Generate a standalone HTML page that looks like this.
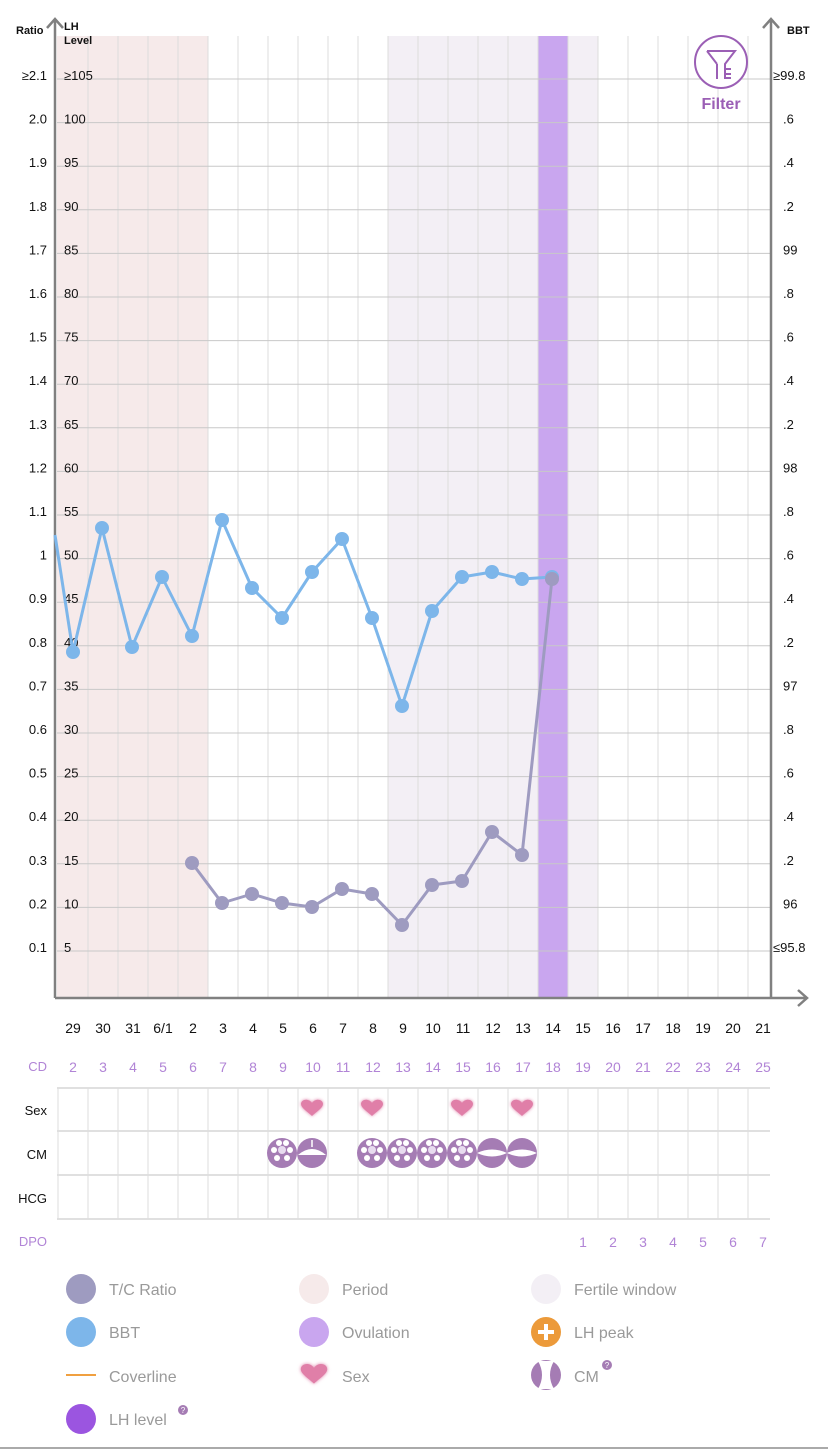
<!DOCTYPE html>
<html><head><meta charset="utf-8"><style>
html,body{margin:0;padding:0;background:#fff;width:828px;height:1450px;overflow:hidden}
svg{display:block;font-family:"Liberation Sans",sans-serif}
</style></head><body>
<svg id="s" width="828" height="1450" viewBox="0 0 828 1450" xmlns="http://www.w3.org/2000/svg">
<defs>
<filter id="glow" x="-50%" y="-50%" width="200%" height="200%"><feGaussianBlur stdDeviation="1.5" result="b"/><feMerge><feMergeNode in="b"/><feMergeNode in="SourceGraphic"/></feMerge></filter>
</defs>
<g id="g"></g>
</svg>
<script>
var out=[];
function A(s){out.push(s)}
// backgrounds
A('<rect x="57" y="36" width="151" height="962" fill="#f6eaea"/>');
A('<rect x="388" y="36" width="210" height="962" fill="#f3eff5"/>');
A('<rect x="538" y="36" width="30" height="962" fill="#c9a6ef"/>');
// vertical grid
for(var i=1;i<24;i++){var x=58+30*i;A('<line x1="'+x+'" y1="36" x2="'+x+'" y2="998" stroke="#dcdcdc" stroke-width="1"/>')}
// horizontal grid
var ratio=['≥2.1','2.0','1.9','1.8','1.7','1.6','1.5','1.4','1.3','1.2','1.1','1','0.9','0.8','0.7','0.6','0.5','0.4','0.3','0.2','0.1'];
var bbt=['≥99.8','.6','.4','.2','99','.8','.6','.4','.2','98','.8','.6','.4','.2','97','.8','.6','.4','.2','96','≤95.8'];
for(var k=0;k<21;k++){var y=79+43.6*k;
A('<line x1="57" y1="'+y+'" x2="770" y2="'+y+'" stroke="#c8c8c8" stroke-width="1"/>');
A('<text x="47" y="'+(y+1)+'" font-size="13" text-anchor="end" fill="#111">'+ratio[k]+'</text>');
A('<text x="64" y="'+(y+1)+'" font-size="13" fill="#111">'+(k==0?'≥105':(105-5*k))+'</text>');
A('<text x="'+(k==0||k==20?773:783)+'" y="'+(y+1)+'" font-size="13" fill="#111">'+bbt[k]+'</text>');
}
A('<text x="16" y="34" font-size="11" font-weight="bold" fill="#111">Ratio</text>');
A('<text x="64" y="30" font-size="11" font-weight="bold" fill="#111">LH</text>');
A('<text x="64" y="44" font-size="11" font-weight="bold" fill="#111">Level</text>');
A('<text x="787" y="34" font-size="11" font-weight="bold" fill="#111">BBT</text>');
// axes
A('<path d="M55,998 V20 M47,28 L55,19 L63,28" stroke="#808080" stroke-width="2.5" fill="none"/>');
A('<path d="M771,998 V20 M763,28 L771,19 L779,28" stroke="#808080" stroke-width="2.5" fill="none"/>');
A('<path d="M55,998 H806 M798,990 L807,998 L798,1006" stroke="#808080" stroke-width="2.5" fill="none"/>');
// filter
A('<circle cx="721" cy="62" r="26" fill="#fff" stroke="#9b5fb5" stroke-width="2"/>');
A('<path d="M707,51 H735 L725,64 V79 M717,64 V79 M707,51 L717,64" stroke="#9b5fb5" stroke-width="2" fill="none"/>');
A('<path d="M725,69 H731 M725,74 H731 M725,78 H731" stroke="#9b5fb5" stroke-width="2"/>');
A('<text x="721" y="109" font-size="16" font-weight="bold" text-anchor="middle" fill="#9b5fb5">Filter</text>');
// BBT
var b=[[55,535],[73,652],[102,528],[132,647],[162,577],[192,636],[222,520],[252,588],[282,618],[312,572],[342,539],[372,618],[402,706],[432,611],[462,577],[492,572],[522,579],[552,577]];
A('<polyline points="'+b.map(function(p){return p.join(',')}).join(' ')+'" fill="none" stroke="#7db6ea" stroke-width="3" stroke-linejoin="round"/>');
b.slice(1).forEach(function(p){A('<circle cx="'+p[0]+'" cy="'+p[1]+'" r="7" fill="#7db6ea"/>')});
var r=[[192,863],[222,903],[252,894],[282,903],[312,907],[342,889],[372,894],[402,925],[432,885],[462,881],[492,832],[522,855],[552,579]];
A('<polyline points="'+r.map(function(p){return p.join(',')}).join(' ')+'" fill="none" stroke="#9e9bc0" stroke-width="3" stroke-linejoin="round"/>');
r.forEach(function(p){A('<circle cx="'+p[0]+'" cy="'+p[1]+'" r="7" fill="#9e9bc0"/>')});
// dates
var d=['29','30','31','6/1','2','3','4','5','6','7','8','9','10','11','12','13','14','15','16','17','18','19','20','21'];
for(var i=0;i<24;i++){var x=73+30*i;
A('<text x="'+x+'" y="1033" font-size="14" text-anchor="middle" fill="#111">'+d[i]+'</text>');
A('<text x="'+x+'" y="1072" font-size="14" text-anchor="middle" fill="#b184d6">'+(i+2)+'</text>');
if(i>=17)A('<text x="'+x+'" y="1247" font-size="14" text-anchor="middle" fill="#b184d6">'+(i-16)+'</text>');
}
A('<text x="47" y="1071" font-size="13" text-anchor="end" fill="#b184d6">CD</text>');
A('<text x="47" y="1246" font-size="13" text-anchor="end" fill="#b184d6">DPO</text>');
// lower grid
[1088,1131,1175,1219].forEach(function(y){A('<line x1="57" y1="'+y+'" x2="770" y2="'+y+'" stroke="#c0c0c0"/>')});
for(var i=0;i<24;i++){var x=58+30*i;A('<line x1="'+x+'" y1="1088" x2="'+x+'" y2="1219" stroke="#dedede"/>')}
A('<text x="47" y="1115" font-size="13" text-anchor="end" fill="#111">Sex</text>');
A('<text x="47" y="1159" font-size="13" text-anchor="end" fill="#111">CM</text>');
A('<text x="47" y="1203" font-size="13" text-anchor="end" fill="#111">HCG</text>');
function heart(cx,cy,s){return '<path filter="url(#glow)" transform="translate('+cx+','+cy+') scale('+s+')" d="M0,8 C-4,4 -11,0 -11,-4 C-11,-9 -3,-10 0,-5 C3,-10 11,-9 11,-4 C11,0 4,4 0,8Z" fill="#e07fa8"/>'}
[312,372,462,522].forEach(function(x){A(heart(x,1108,1))});
function cm(cx,cy,t){var s='<circle cx="'+cx+'" cy="'+cy+'" r="15" fill="#a57cb4"/>';
if(t==0){s+='<circle cx="'+cx+'" cy="'+(cy-3)+'" r="4" fill="#e8dcef"/>';[[-8,-3],[8,-3],[-5,5],[5,5],[-3,-10],[4,-10]].forEach(function(o){s+='<circle cx="'+(cx+o[0])+'" cy="'+(cy+o[1])+'" r="3" fill="#fff"/>'})}
else if(t==1){s+='<path d="M'+(cx-14)+','+(cy+2)+' Q'+cx+','+(cy-10)+' '+(cx+14)+','+(cy+2)+' Z" fill="#fff"/><line x1="'+cx+'" y1="'+(cy-13)+'" x2="'+cx+'" y2="'+(cy-6)+'" stroke="#fff" stroke-width="1.5"/>'}
else{s+='<path d="M'+(cx-15)+','+cy+' Q'+cx+','+(cy-7)+' '+(cx+15)+','+cy+' Q'+cx+','+(cy+7)+' '+(cx-15)+','+cy+'Z" fill="#fff"/>'}
return s}
[[282,0],[312,1],[372,0],[402,0],[432,0],[462,0],[492,2],[522,2]].forEach(function(c){A(cm(c[0],1153,c[1]))});
// legend
function L(x,y,t){A('<text x="'+(x+28)+'" y="'+(y+6)+'" font-size="16" fill="#9a9a9a">'+t+'</text>')}
A('<ellipse cx="81" cy="1289" rx="15" ry="15" fill="#9e9bc0"/>');L(81,1289,'T/C Ratio');
A('<ellipse cx="81" cy="1332" rx="15" ry="15" fill="#7db6ea"/>');L(81,1332,'BBT');
A('<line x1="66" y1="1375" x2="96" y2="1375" stroke="#f0a040" stroke-width="2"/>');L(81,1376,'Coverline');
A('<ellipse cx="81" cy="1419" rx="15" ry="15" fill="#9b55e0"/>');L(81,1419,'LH level');
A('<circle cx="183" cy="1410" r="5" fill="#a57cb4"/><text x="183" y="1413" font-size="8" fill="#fff" text-anchor="middle">?</text>');
A('<ellipse cx="314" cy="1289" rx="15" ry="15" fill="#f6eaea"/>');L(314,1289,'Period');
A('<ellipse cx="314" cy="1332" rx="15" ry="15" fill="#c9a6ef"/>');L(314,1332,'Ovulation');
A(heart(314,1374,1.2));L(314,1376,'Sex');
A('<ellipse cx="546" cy="1289" rx="15" ry="15" fill="#f3eff5"/>');L(546,1289,'Fertile window');
A('<circle cx="546" cy="1332" r="15" fill="#ec9a3a"/><path d="M546,1324 V1340 M538,1332 H554" stroke="#fff" stroke-width="4"/>');L(546,1332,'LH peak');
A('<circle cx="546" cy="1375" r="15" fill="#a57cb4"/><path d="M538,1361 Q546,1375 538,1389 H554 Q546,1375 554,1361 Z" fill="#fff"/>');L(546,1376,'CM');
A('<circle cx="607" cy="1365" r="5" fill="#a57cb4"/><text x="607" y="1368" font-size="8" fill="#fff" text-anchor="middle">?</text>');
A('<line x1="0" y1="1448" x2="828" y2="1448" stroke="#aaa" stroke-width="2"/>');
document.getElementById('g').innerHTML=out.join('');
</script>
</body></html>
